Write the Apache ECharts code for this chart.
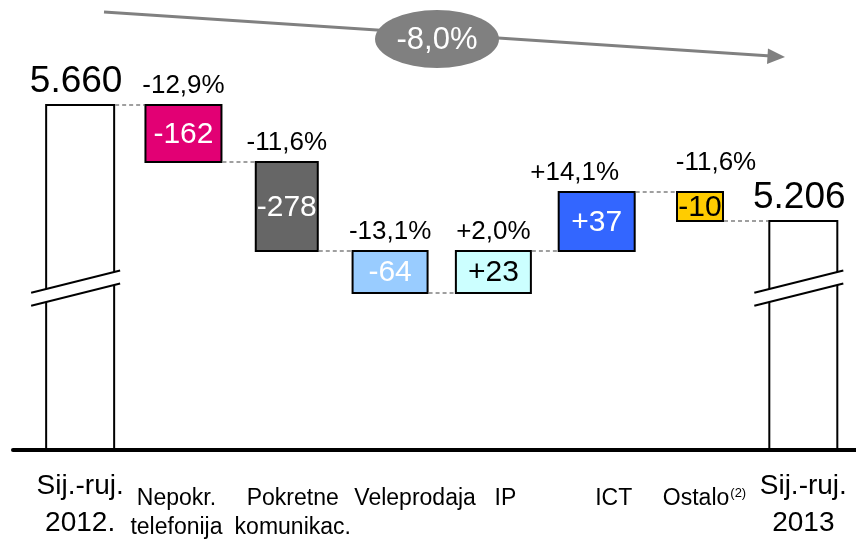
<!DOCTYPE html>
<html><head><meta charset="utf-8">
<script src="https://cdn.jsdelivr.net/npm/echarts@6/dist/echarts.min.js"></script>
<style>html,body{margin:0;padding:0;background:#fff}#c{width:856px;height:541px}</style>
</head><body><div id="c"></div>
<script>
// ---------- data ----------
const categories = ['Sij.-ruj.\n2012.', 'Nepokr.\ntelefonija', 'Pokretne\nkomunikac.', 'Veleprodaja', 'IP', 'ICT', 'Ostalo', 'Sij.-ruj.\n2013'];
const footnotes = ['', '', '', '', '', '', '(2)', ''];
const values = [5660, -162, -278, -64, 23, 37, -10, 5206];
const pctLabels = ['', '-12,9%', '-11,6%', '-13,1%', '+2,0%', '+14,1%', '-11,6%', ''];
// running level of the schematic (not-to-scale) waterfall, as drawn in the picture
const drawnLevel = [86.25, 72, 49.75, 39.25, 49.75, 64.5, 57.25, 57.25];
const breakLevel = 40.75;
const totalChange = '-8,0%';

// ---------- styles ----------
const FONT = "'Liberation Sans', Arial, Helvetica, sans-serif";
const fillColors = ['#ffffff', '#E20074', '#666666', '#99CCFF', '#CCFFFF', '#3366FF', '#FFCC00', '#ffffff'];
const innerText = ['#000', '#fff', '#fff', '#fff', '#000', '#fff', '#000', '#000'];
const barWidthPx = [68, 76, 62, 75, 75, 76, 46, 68];
const pctDx = [0, 0, 0, 0, 0, -22, 16, 0];
const pctDy = [0, 0, 0, 0, 0, 0, -10, 0];
const catDx = [0, -7, 6, 25, 12, 17, 4, 0];

const n = categories.length;
const isTotal = i => i === 0 || i === n - 1;
function fmtValue(v, i) {
  if (isTotal(i)) return String(v).replace(/\B(?=(\d{3})+(?!\d))/g, '.');
  return (v > 0 ? '+' : '') + v;
}
const measureCtx = document.createElement('canvas').getContext('2d');
function textW(t, size) { measureCtx.font = size + 'px ' + FONT; return measureCtx.measureText(t).width; }

function renderItem(params, api) {
  const i = params.dataIndex;
  const cur = drawnLevel[i];
  const prev = isTotal(i) ? 0 : drawnLevel[i - 1];
  const lo = Math.min(prev, cur), hi = Math.max(prev, cur);
  const cx = api.coord([i, 0])[0];
  const yBase = api.coord([i, 0])[1];
  const yTop = api.coord([i, hi])[1];
  const yBot = api.coord([i, lo])[1];
  const w = barWidthPx[i];
  const ch = [];
  ch.push({type: 'rect', shape: {x: cx - w / 2, y: yTop, width: w, height: yBot - yTop},
    style: {fill: fillColors[i], stroke: '#000', lineWidth: 2}});
  if (isTotal(i)) {
    const yb = api.coord([i, breakLevel])[1];
    const slope = -0.25, gap = 6.5;
    const yAt = (x, off) => yb + off + slope * (x - cx);
    const xl = cx - w / 2 - 15, xr = cx + w / 2 + 6;
    const xl2 = cx - w / 2 - 3, xr2 = cx + w / 2 + 3;
    ch.push({type: 'polygon', shape: {points: [[xl2, yAt(xl2, -gap)], [xr2, yAt(xr2, -gap)], [xr2, yAt(xr2, gap)], [xl2, yAt(xl2, gap)]]},
      style: {fill: '#fff'}});
    ch.push({type: 'line', shape: {x1: xl, y1: yAt(xl, -gap), x2: xr, y2: yAt(xr, -gap)}, style: {stroke: '#000', lineWidth: 2}});
    ch.push({type: 'line', shape: {x1: xl, y1: yAt(xl, gap), x2: xr, y2: yAt(xr, gap)}, style: {stroke: '#000', lineWidth: 2}});
    ch.push({type: 'text', style: {text: fmtValue(values[i], i), x: cx - 4, y: yTop - 23.5, fill: '#000',
      fontSize: 37, fontFamily: FONT, align: 'center', verticalAlign: 'middle'}});
  } else {
    ch.push({type: 'text', style: {text: fmtValue(values[i], i), x: cx, y: (yTop + yBot) / 2 + 1, fill: innerText[i],
      fontSize: 30, fontFamily: FONT, align: 'center', verticalAlign: 'middle'}});
    ch.push({type: 'text', style: {text: pctLabels[i], x: cx + pctDx[i], y: yTop - 19 + pctDy[i], fill: '#000',
      fontSize: 26, fontFamily: FONT, align: 'center', verticalAlign: 'middle'}});
  }
  if (i < n - 1) {
    const yl = api.coord([i, drawnLevel[i]])[1];
    const nx = api.coord([i + 1, 0])[0] - barWidthPx[i + 1] / 2;
    ch.push({type: 'line', shape: {x1: cx + w / 2 + 1, y1: yl, x2: nx - 1, y2: yl},
      style: {stroke: '#808080', lineWidth: 1.5, lineDash: [4, 3]}});
  }
  // category label
  const lines = categories[i].split('\n');
  const fs = isTotal(i) ? 28 : 23;
  const offs = isTotal(i) ? [36.5, 73] : [49, 78];
  const lx = cx + catDx[i];
  lines.forEach((t, k) => {
    if (footnotes[i] && k === 0) {
      const w1 = textW(t, fs), w2 = textW(footnotes[i], 13);
      const x0 = lx - (w1 + w2) / 2;
      ch.push({type: 'text', style: {text: t, x: x0, y: yBase + offs[k], fill: '#000', fontSize: fs, fontFamily: FONT, align: 'left', verticalAlign: 'middle'}});
      ch.push({type: 'text', style: {text: footnotes[i], x: x0 + w1 + 1, y: yBase + offs[k] - 6, fill: '#000', fontSize: 13, fontFamily: FONT, align: 'left', verticalAlign: 'middle'}});
    } else {
      ch.push({type: 'text', style: {text: t, x: lx, y: yBase + offs[k], fill: '#000', fontSize: fs, fontFamily: FONT, align: 'center', verticalAlign: 'middle'}});
    }
  });
  return {type: 'group', children: ch};
}

const chart = echarts.init(document.getElementById('c'), null, {renderer: 'canvas'});
chart.setOption({
  animation: false,
  backgroundColor: '#fff',
  grid: {left: 13, right: 0, top: 50, bottom: 91},
  xAxis: {type: 'value', min: -0.65, max: 7.51, z: 10,
    axisLine: {show: true, onZero: true, lineStyle: {color: '#000', width: 4}},
    axisTick: {show: false}, axisLabel: {show: false}, splitLine: {show: false}},
  yAxis: {type: 'value', min: 0, max: 100, show: false},
  graphic: [
    {type: 'line', shape: {x1: 104, y1: 12, x2: 771, y2: 56}, style: {stroke: '#808080', lineWidth: 3}},
    {type: 'polygon', shape: {points: [[785, 57], [768, 48.5], [767, 64]]}, style: {fill: '#808080'}},
    {type: 'circle', shape: {cx: 0, cy: 0, r: 62}, x: 437, y: 39, scaleY: 29 / 62, style: {fill: '#808080'}},
    {type: 'text', x: 437, y: 40, style: {text: totalChange, fill: '#fff', fontSize: 31, fontFamily: FONT, align: 'center', verticalAlign: 'middle'}}
  ],
  series: [{
    type: 'custom',
    renderItem: renderItem,
    encode: {x: 0, y: 2},
    data: categories.map((c, i) => [i, values[i], drawnLevel[i]])
  }]
});
</script></body></html>
